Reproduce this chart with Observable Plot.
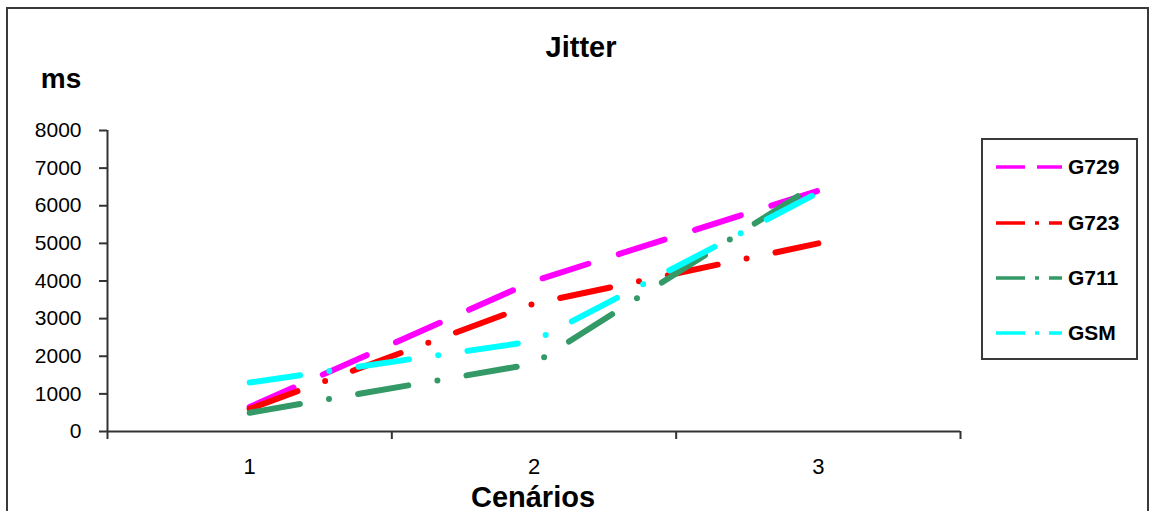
<!DOCTYPE html>
<html>
<head>
<meta charset="utf-8">
<script src="https://cdn.jsdelivr.net/npm/d3@7"></script>
<script src="https://cdn.jsdelivr.net/npm/@observablehq/plot@0.6"></script>
<style>
  html, body { margin: 0; padding: 0; background: #fff; overflow: hidden; }
  #wrap { position: relative; width: 1151px; height: 511px; font-family: "Liberation Sans", Arial, sans-serif; }
  #frame { position: absolute; left: 6px; top: 7px; width: 1139px; height: 600px; border: 2px solid #3a3a3a; pointer-events: none; }
  #chart { position: absolute; left: 0; top: 0; }
  .lbl { position: absolute; font-weight: bold; color: #000; white-space: nowrap; }
  #title { left: 581px; top: 47px; transform: translate(-50%, -50%); font-size: 29px; }
  #ms { left: 61px; top: 79px; transform: translate(-50%, -50%); font-size: 28px; }
  #xlab { left: 533px; top: 497px; transform: translate(-50%, -50%); font-size: 29px; }
  #legend { position: absolute; left: 981px; top: 138px; width: 153px; height: 218px; border: 2px solid #3a3a3a; background: #fff; }
  .item { position: absolute; left: 0; height: 20px; }
  .item svg { position: absolute; left: 13px; top: 0; }
  .item span { position: absolute; left: 85px; top: 50%; transform: translateY(-50%); font-weight: bold; font-size: 21px; }
</style>
</head>
<body>
<div id="wrap">
  <div id="chart"></div>
  <div class="lbl" id="title">Jitter</div>
  <div class="lbl" id="ms">ms</div>
  <div class="lbl" id="xlab">Cenários</div>
  <div id="legend"></div>
  <div id="frame"></div>
</div>
<script>
// ---- data ----
const scenarios = [1, 2, 3];
const g729 = [650, 4000, 6400];
const g723 = [600, 3400, 5000];
const g711 = [500, 1800, 6600];
const gsm  = [1300, 2400, 6350];
const seriesNames = ["G729", "G723", "G711", "GSM"];
const yTicks = [0, 1000, 2000, 3000, 4000, 5000, 6000, 7000, 8000];

// ---- styles ----
const colors = {G729: "#ff00ff", G723: "#ff0000", G711: "#339966", GSM: "#00ffff"};
const dashes = {G729: "48,32", G723: "51,29.5,0,29.5", G711: "51,29.5,0,29.5", GSM: "51,29.5,0,29.5"};
const legendDashes = {G729: "29,12", G723: "29,10,4,10,30", G711: "29,10,4,10,30", GSM: "29,10,4,10,30"};

const valuesBySeries = {G729: g729, G723: g723, G711: g711, GSM: gsm};
const rows = seriesNames.flatMap(s => scenarios.map((c, i) => ({series: s, cen: c, v: valuesBySeries[s][i]})));

const plot = Plot.plot({
  width: 1151,
  height: 511,
  marginLeft: 107,
  marginRight: 191,
  marginTop: 130,
  marginBottom: 80,
  style: {fontFamily: "'Liberation Sans', Arial, sans-serif", color: "#000", background: "transparent"},
  x: {domain: [0.5, 3.5]},
  y: {domain: [0, 8000]},
  marks: [
    Plot.ruleX([0.5], {y1: 0, y2: 8000, stroke: "#333", strokeWidth: 2}),
    Plot.ruleY([0], {x1: 0.5, x2: 3.5, stroke: "#333", strokeWidth: 2}),
    Plot.axisY({ticks: yTicks, tickSize: 8, tickPadding: 18, fontSize: 21, label: null, tickFormat: d3.format("d"), stroke: "#333", strokeWidth: 2}),
    Plot.axisX({ticks: [0.5, 1.5, 2.5, 3.5], tickFormat: () => "", tickSize: 8, label: null, stroke: "#333", strokeWidth: 2}),
    Plot.axisX({ticks: scenarios, tickSize: 0, tickPadding: 27, fontSize: 22, label: null, tickFormat: d3.format("d")}),
    ...seriesNames.map(s => Plot.line(rows.filter(r => r.series === s), {
      x: "cen", y: "v",
      stroke: colors[s], strokeWidth: 6,
      strokeLinecap: "round", strokeLinejoin: "round",
      strokeDasharray: dashes[s]
    }))
  ]
});
document.getElementById("chart").appendChild(plot);

// ---- legend ----
const legend = document.getElementById("legend");
const legendTops = [17, 73, 128, 183];
seriesNames.forEach((s, i) => {
  const item = document.createElement("div");
  item.className = "item";
  item.style.top = legendTops[i] + "px";
  item.style.width = "150px";
  item.innerHTML = `<svg width="70" height="20"><line x1="0" y1="10" x2="66" y2="10" stroke="${colors[s]}" stroke-width="3.5" stroke-dasharray="${legendDashes[s]}" stroke-linecap="butt"/></svg><span>${s}</span>`;
  legend.appendChild(item);
});
</script>
</body>
</html>
